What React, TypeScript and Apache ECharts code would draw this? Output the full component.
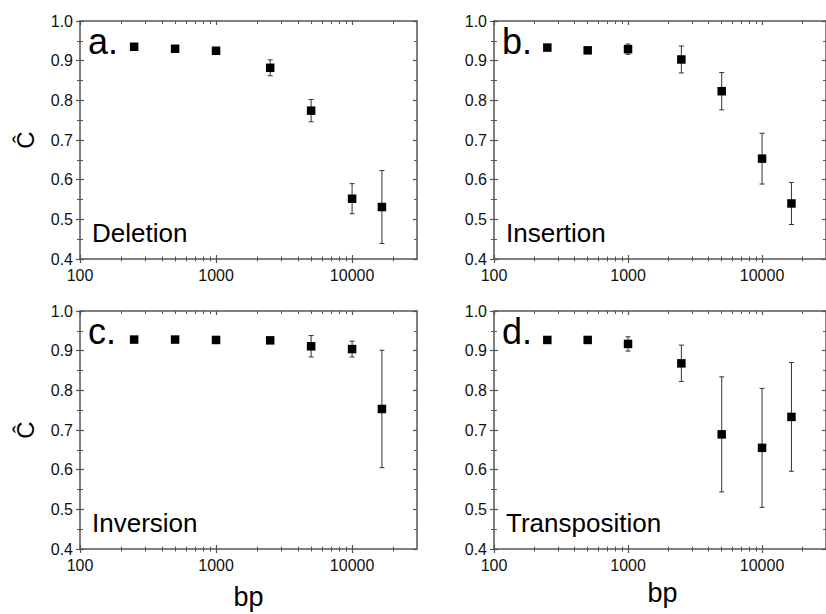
import React, { useEffect, useRef } from "react";
import * as echarts from "echarts";

const bpValues = [250, 500, 1000, 2500, 5000, 10000, 16569];
const deletionMean = [0.935, 0.93, 0.925, 0.882, 0.774, 0.552, 0.531];
const deletionErr = [0.003, 0.003, 0.006, 0.02, 0.028, 0.038, 0.092];
const insertionMean = [0.933, 0.926, 0.929, 0.903, 0.823, 0.653, 0.54];
const insertionErr = [0.003, 0.003, 0.013, 0.034, 0.047, 0.064, 0.053];
const inversionMean = [0.928, 0.928, 0.927, 0.926, 0.911, 0.904, 0.753];
const inversionErr = [0.002, 0.002, 0.002, 0.003, 0.027, 0.02, 0.148];
const transpositionMean = [0.927, 0.927, 0.917, 0.868, 0.689, 0.655, 0.733];
const transpositionErr = [0.003, 0.004, 0.018, 0.046, 0.145, 0.15, 0.137];

const panelLetters = ["a.", "b.", "c.", "d."];
const panelNames = ["Deletion", "Insertion", "Inversion", "Transposition"];
const xMajorTicks = [100, 1000, 10000];
const xMinorTicks = [200, 300, 400, 500, 600, 700, 800, 900, 2000, 3000, 4000, 5000, 6000, 7000, 8000, 9000, 20000];
const xMin = 100;
const xMax = 30000;
const yMin = 0.4;
const yMax = 1.0;
const yInterval = 0.1;
const yAxisTitle = "Ĉ";
const xAxisTitle = "bp";

const means = [deletionMean, insertionMean, inversionMean, transpositionMean];
const errs = [deletionErr, insertionErr, inversionErr, transpositionErr];

const FONT = "Liberation Sans, Arial, sans-serif";
const AXIS_COLOR = "#555";

const gridPos = [
  { left: 80, top: 21, width: 337, height: 238 },
  { left: 494, top: 21, width: 337, height: 238 },
  { left: 80, top: 311, width: 337, height: 238 },
  { left: 494, top: 311, width: 337, height: 238 },
];

function buildOption() {
  const grid: any[] = [];
  const xAxis: any[] = [];
  const yAxis: any[] = [];
  const series: any[] = [];
  const graphic: any[] = [];

  const X_PER = 6;
  const Y_PER = 3;

  gridPos.forEach((g, i) => {
    grid.push({ ...g, containLabel: false, show: false });
    const baseX = {
      type: "log",
      logBase: 10,
      min: xMin,
      max: xMax,
      gridIndex: i,
      splitLine: { show: false },
      minorTick: { show: false },
      minorSplitLine: { show: false },
    };
    const lineStyle = { color: AXIS_COLOR, width: 1.5 };
    xAxis.push({
      ...baseX,
      position: "bottom",
      axisLine: { show: true, lineStyle },
      axisTick: { show: true, inside: false, length: 4, customValues: xMajorTicks, lineStyle: { color: AXIS_COLOR, width: 1.2 } },
      axisLabel: {
        show: true,
        customValues: xMajorTicks,
        formatter: (v: number) => String(Math.round(v)),
        fontSize: 16,
        fontFamily: FONT,
        color: "#111",
        margin: 8,
      },
    });
    xAxis.push({
      ...baseX,
      position: "bottom",
      axisLine: { show: false },
      axisTick: { show: true, inside: true, length: 4, customValues: xMajorTicks, lineStyle: { color: AXIS_COLOR, width: 1.2 } },
      axisLabel: { show: false },
    });
    xAxis.push({
      ...baseX,
      position: "bottom",
      axisLine: { show: false },
      axisTick: { show: true, inside: false, length: 2.5, customValues: xMinorTicks, lineStyle: { color: AXIS_COLOR, width: 1 } },
      axisLabel: { show: false },
    });
    xAxis.push({
      ...baseX,
      position: "bottom",
      axisLine: { show: false },
      axisTick: { show: true, inside: true, length: 2.5, customValues: xMinorTicks, lineStyle: { color: AXIS_COLOR, width: 1 } },
      axisLabel: { show: false },
    });
    xAxis.push({
      ...baseX,
      position: "top",
      axisLine: { show: true, lineStyle },
      axisTick: { show: true, inside: true, length: 4, customValues: xMajorTicks, lineStyle: { color: AXIS_COLOR, width: 1.2 } },
      axisLabel: { show: false },
    });
    xAxis.push({
      ...baseX,
      position: "top",
      axisLine: { show: false },
      axisTick: { show: true, inside: true, length: 3, customValues: xMinorTicks, lineStyle: { color: AXIS_COLOR, width: 1 } },
      axisLabel: { show: false },
    });

    const baseY = {
      type: "value",
      min: yMin,
      max: yMax,
      interval: yInterval,
      gridIndex: i,
      splitLine: { show: false },
      minorSplitLine: { show: false },
    };
    yAxis.push({
      ...baseY,
      position: "left",
      axisLine: { show: true, lineStyle },
      axisTick: { show: true, inside: false, length: 4, lineStyle: { color: AXIS_COLOR, width: 1.2 } },
      minorTick: { show: true, splitNumber: 2, length: 3, lineStyle: { color: AXIS_COLOR, width: 1 } },
      axisLabel: {
        show: true,
        formatter: (v: number) => v.toFixed(1),
        fontSize: 16,
        fontFamily: FONT,
        color: "#111",
        margin: 7,
      },
    });
    yAxis.push({
      ...baseY,
      position: "left",
      axisLine: { show: false },
      axisTick: { show: true, inside: true, length: 4, lineStyle: { color: AXIS_COLOR, width: 1.2 } },
      minorTick: { show: true, splitNumber: 2, length: 3, lineStyle: { color: AXIS_COLOR, width: 1 } },
      axisLabel: { show: false },
    });
    yAxis.push({
      ...baseY,
      position: "right",
      axisLine: { show: true, lineStyle },
      axisTick: { show: true, inside: true, length: 4, lineStyle: { color: AXIS_COLOR, width: 1.2 } },
      minorTick: { show: true, splitNumber: 2, length: 3, lineStyle: { color: AXIS_COLOR, width: 1 } },
      axisLabel: { show: false },
    });

    const m = means[i];
    const e = errs[i];
    series.push({
      type: "custom",
      name: panelNames[i] + " error",
      xAxisIndex: i * X_PER,
      yAxisIndex: i * Y_PER,
      z: 2,
      clip: false,
      data: bpValues.map((x, j) => [x, m[j], e[j]]),
      encode: { x: 0, y: 1 },
      renderItem: (params: any, api: any) => {
        const x = api.value(0);
        const y = api.value(1);
        const er = api.value(2);
        const top = api.coord([x, y + er]);
        const bot = api.coord([x, y - er]);
        const cap = 2.5;
        const style = { stroke: "#333", lineWidth: 1 };
        return {
          type: "group",
          children: [
            { type: "line", shape: { x1: top[0], y1: top[1], x2: bot[0], y2: bot[1] }, style },
            { type: "line", shape: { x1: top[0] - cap, y1: top[1], x2: top[0] + cap, y2: top[1] }, style },
            { type: "line", shape: { x1: bot[0] - cap, y1: bot[1], x2: bot[0] + cap, y2: bot[1] }, style },
          ],
        };
      },
    });
    series.push({
      type: "scatter",
      name: panelNames[i],
      xAxisIndex: i * X_PER,
      yAxisIndex: i * Y_PER,
      z: 3,
      symbol: "rect",
      symbolSize: 8.5,
      itemStyle: { color: "#000", opacity: 1 },
      data: bpValues.map((x, j) => [x, m[j]]),
    });

    graphic.push({
      type: "text",
      x: g.left + 8,
      y: g.top + 20,
      style: { text: panelLetters[i], fontSize: 36, fontFamily: FONT, fill: "#000", verticalAlign: "middle", align: "left" },
    });
    graphic.push({
      type: "text",
      x: g.left + 12,
      y: g.top + g.height - 26,
      style: { text: panelNames[i], fontSize: 26, fontFamily: FONT, fill: "#000", verticalAlign: "middle", align: "left" },
    });
  });

  [0, 2].forEach((i) => {
    const g = gridPos[i];
    graphic.push({
      type: "text",
      x: 25,
      y: g.top + g.height / 2,
      rotation: Math.PI / 2,
      style: { text: yAxisTitle, fontSize: 24, fontFamily: FONT, fill: "#000", align: "center", verticalAlign: "middle" },
    });
  });
  [2, 3].forEach((i, k) => {
    const g = gridPos[i];
    graphic.push({
      type: "text",
      x: g.left + g.width / 2,
      y: k === 0 ? 597 : 593,
      style: { text: xAxisTitle, fontSize: 27, fontFamily: FONT, fill: "#000", align: "center", verticalAlign: "middle" },
    });
  });

  return {
    animation: false,
    backgroundColor: "#fff",
    grid,
    xAxis,
    yAxis,
    series,
    graphic,
  };
}

export default function App() {
  const ref = useRef<HTMLDivElement>(null);
  useEffect(() => {
    if (!ref.current) return;
    const chart = echarts.init(ref.current, undefined, { renderer: "svg" });
    chart.setOption(buildOption() as any);
    return () => chart.dispose();
  }, []);
  return (
    <div
      ref={ref}
      style={{ position: "absolute", left: 0, top: 0, width: 826, height: 614, background: "#fff" }}
    />
  );
}
